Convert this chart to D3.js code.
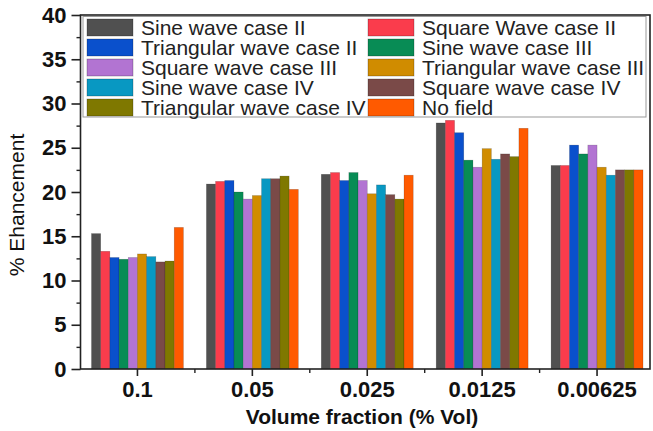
<!DOCTYPE html>
<html>
<head>
<meta charset="utf-8">
<script src="https://cdn.jsdelivr.net/npm/d3@7"></script>
<style>
  body { margin: 0; background: #fff; }
  svg { display: block; font-family: "Liberation Sans", Arial, sans-serif; }
</style>
</head>
<body>
<div id="chart"></div>
<script>
// categories on the x axis
var categories = ["0.1", "0.05", "0.025", "0.0125", "0.00625"];

var seriesNames = [
  "Sine wave case II", "Square Wave case II",
  "Triangular wave case II", "Sine wave case III",
  "Square wave case III", "Triangular wave case III",
  "Sine wave case IV", "Square wave case IV",
  "Triangular wave case IV", "No field"
];

// one row per series, one value per category
var seriesValues = [
  [15.3, 20.9, 22.0, 27.8, 23.0],
  [13.3, 21.2, 22.2, 28.1, 23.0],
  [12.6, 21.3, 21.3, 26.7, 25.3],
  [12.4, 20.0, 22.2, 23.6, 24.3],
  [12.6, 19.2, 21.3, 22.8, 25.3],
  [13.0, 19.6, 19.8, 24.9, 22.8],
  [12.7, 21.5, 20.8, 23.7, 21.9],
  [12.1, 21.5, 19.7, 24.3, 22.5],
  [12.2, 21.8, 19.2, 24.0, 22.5],
  [16.0, 20.3, 21.9, 27.2, 22.5]
];

var yTicks = [0, 5, 10, 15, 20, 25, 30, 35, 40];

var colors = ["#505050", "#fa3c4c", "#0a50cc", "#088c55", "#b274d2",
              "#d08c00", "#0898c2", "#7a4a48", "#7f7800", "#ff5a00"];

var width = 653, height = 431;
var plotLeft = 80.5, plotRight = 650, plotTop = 15, plotBottom = 369;

var svg = d3.select("#chart").append("svg")
  .attr("width", width)
  .attr("height", height);

var x = d3.scaleBand()
  .domain(categories)
  .range([80, 654.5])
  .paddingInner(0.2)
  .paddingOuter(0.1);

var xs = d3.scaleBand()
  .domain(d3.range(seriesNames.length))
  .range([0, x.bandwidth()]);

var y = d3.scaleLinear().domain([0, 40]).range([plotBottom, plotTop]);

// bars
var rows = [];
seriesValues.forEach(function(vals, s) {
  vals.forEach(function(v, c) {
    rows.push({s: s, cat: categories[c], v: v});
  });
});

svg.append("g").selectAll("rect")
  .data(rows)
  .enter()
  .append("rect")
    .attr("x", function(d) { return x(d.cat) + xs(d.s); })
    .attr("y", function(d) { return y(d.v); })
    .attr("width", xs.bandwidth())
    .attr("height", function(d) { return plotBottom - y(d.v); })
    .style("fill", function(d) { return colors[d.s]; })
    .style("stroke", "rgba(0,0,0,0.25)")
    .style("stroke-width", 0.6);

// frame
svg.append("rect")
  .attr("x", plotLeft).attr("y", plotTop)
  .attr("width", plotRight - plotLeft).attr("height", plotBottom - plotTop)
  .style("fill", "none")
  .style("stroke", "#222")
  .style("stroke-width", 1.6);

// y axis ticks
var yAxis = d3.axisLeft(y).tickValues(yTicks).tickSize(9).tickPadding(5);
var gy = svg.append("g").attr("transform", "translate(" + plotLeft + ",0)").call(yAxis);
gy.select(".domain").remove();
gy.selectAll("line").style("stroke", "#222").style("stroke-width", 1.6);
gy.selectAll("text")
  .style("font-size", "22px")
  .style("font-weight", "bold")
  .style("fill", "#111");

var yMinor = d3.axisLeft(y).tickValues(d3.range(2.5, 40, 5)).tickSize(4).tickFormat("");
var gym = svg.append("g").attr("transform", "translate(" + plotLeft + ",0)").call(yMinor);
gym.select(".domain").remove();
gym.selectAll("line").style("stroke", "#222").style("stroke-width", 1.4);

// x axis ticks
var xAxis = d3.axisBottom(x).tickSize(7).tickPadding(5);
var gx = svg.append("g").attr("transform", "translate(0," + plotBottom + ")").call(xAxis);
gx.select(".domain").remove();
gx.selectAll("line").style("stroke", "#222").style("stroke-width", 1.6);
gx.selectAll("text")
  .style("font-size", "22px")
  .style("font-weight", "bold")
  .style("fill", "#111");

// minor x ticks between groups
var mids = categories.slice(1).map(function(c) { return x(c) - x.step() * x.paddingInner() / 2; });
svg.append("g").selectAll("line")
  .data(mids)
  .enter()
  .append("line")
    .attr("x1", function(d) { return d; })
    .attr("x2", function(d) { return d; })
    .attr("y1", plotBottom)
    .attr("y2", plotBottom + 4)
    .style("stroke", "#222")
    .style("stroke-width", 1.4);

// axis titles
svg.append("text")
  .attr("x", 362)
  .attr("y", 424)
  .attr("text-anchor", "middle")
  .style("font-size", "21px")
  .style("font-weight", "bold")
  .style("fill", "#111")
  .text("Volume fraction (% Vol)");

svg.append("text")
  .attr("transform", "translate(24,205) rotate(-90)")
  .attr("text-anchor", "middle")
  .style("font-size", "21px")
  .style("fill", "#111")
  .text("% Ehancement");

// legend
var legend = svg.append("g");
legend.append("rect")
  .attr("x", 83).attr("y", 16.5)
  .attr("width", 563).attr("height", 100.5)
  .style("fill", "#fff")
  .style("stroke", "#999")
  .style("stroke-width", 1);

var colX = [87, 368];
var items = legend.selectAll("g.item")
  .data(seriesNames)
  .enter()
  .append("g")
    .attr("class", "item")
    .attr("transform", function(d, i) {
      return "translate(" + colX[i % 2] + "," + (19 + Math.floor(i / 2) * 20) + ")";
    });

items.append("rect")
  .attr("width", 46).attr("height", 17)
  .style("fill", function(d, i) { return colors[i]; })
  .style("stroke", "rgba(0,0,0,0.3)")
  .style("stroke-width", 0.8);

items.append("text")
  .attr("x", 54)
  .attr("y", 15.5)
  .style("font-size", "21px")
  .style("fill", "#222")
  .text(function(d) { return d; });
</script>
</body>
</html>
